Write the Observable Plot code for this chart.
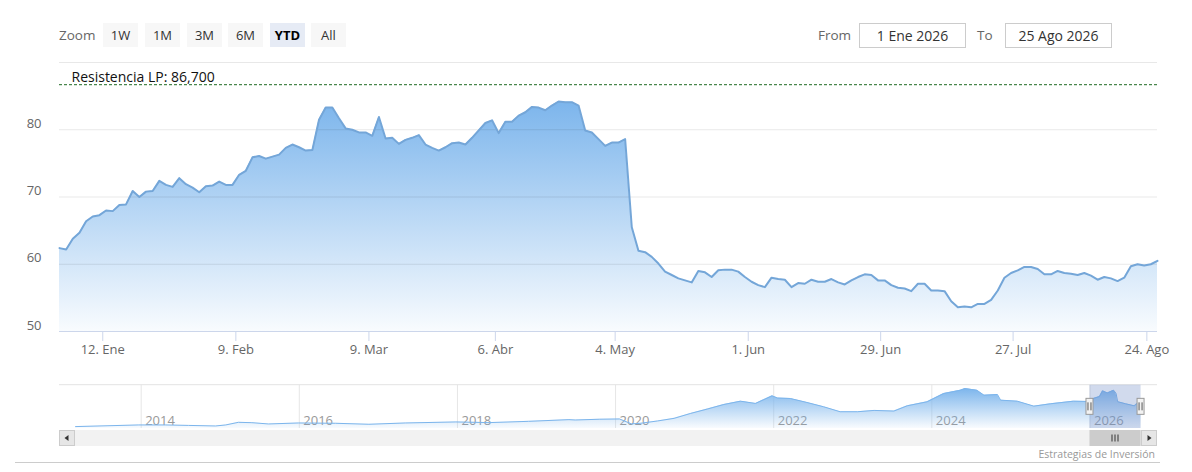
<!DOCTYPE html>
<html><head><meta charset="utf-8">
<script src="https://cdn.jsdelivr.net/npm/d3@7"></script>
<script src="https://cdn.jsdelivr.net/npm/@observablehq/plot@0.6"></script>
<style>
body{margin:0;background:#fff;font-family:"Open Sans",sans-serif;}
#wrap{position:relative;width:1192px;height:472px;overflow:hidden;background:#fff;}
#wrap svg{position:absolute;left:0;overflow:visible;}
.btn{position:absolute;top:23px;height:24px;width:35px;background:#f7f7f7;color:#333;font-size:13px;line-height:24px;text-align:center;}
.btn.sel{background:#e6ebf5;font-weight:bold;color:#000;}
.lbl{position:absolute;top:23px;height:24px;line-height:24px;color:#666;font-size:13.5px;}
.inp{position:absolute;top:23px;height:25px;width:107px;border:1px solid #ccc;box-sizing:border-box;color:#333;font-size:14px;line-height:23px;text-align:center;background:#fff;}
#credits{position:absolute;right:37px;top:447px;font-size:10.5px;color:#999;}
#bottomline{position:absolute;left:15px;top:462px;width:1145px;border-top:1px solid #ccc;}
</style>
</head><body>
<div id="wrap"></div>
<script>
// ---- data ----
const rangeButtons = ["1W", "1M", "3M", "6M", "YTD", "All"];
const selectedButton = "YTD";
const fromLabel = "1 Ene 2026";
const toLabel = "25 Ago 2026";
const resistance = 86.7;
// daily closes, one per trading session (2 Ene 2026 .. 25 Ago 2026)
const price = [
  62.4, 62.2, 63.8, 64.7, 66.4, 67.1, 67.3, 68.0, 67.9, 68.8,
  68.9, 70.9, 70.0, 70.8, 70.9, 72.4, 71.8, 71.5, 72.8, 71.9,
  71.4, 70.7, 71.6, 71.7, 72.3, 71.8, 71.8, 73.3, 73.9, 75.9,
  76.1, 75.7, 76.0, 76.3, 77.3, 77.8, 77.4, 76.9, 77.0, 81.5,
  83.3, 83.3, 81.7, 80.2, 80.0, 79.6, 79.6, 79.1, 81.9, 78.7,
  78.8, 77.9, 78.5, 78.8, 79.2, 77.8, 77.3, 76.9, 77.4, 78.0,
  78.1, 77.8, 78.8, 79.9, 81.0, 81.4, 79.5, 81.2, 81.2, 82.1,
  82.6, 83.4, 83.3, 82.9, 83.6, 84.2, 84.1, 84.1, 83.6, 79.9,
  79.6, 78.6, 77.6, 78.1, 78.1, 78.6, 65.5, 62.0, 61.8, 61.1,
  60.1, 58.9, 58.4, 57.9, 57.6, 57.3, 59.0, 58.8, 58.1, 59.1,
  59.2, 59.2, 58.9, 58.1, 57.4, 56.9, 56.6, 58.0, 57.8, 57.7,
  56.6, 57.2, 57.1, 57.7, 57.4, 57.4, 57.8, 57.3, 57.0, 57.6,
  58.1, 58.5, 58.4, 57.6, 57.6, 56.9, 56.5, 56.4, 56.0, 57.1,
  57.1, 56.1, 56.1, 56.0, 54.5, 53.6, 53.7, 53.6, 54.1, 54.1,
  54.7, 56.1, 58.0, 58.7, 59.1, 59.6, 59.6, 59.3, 58.5, 58.5,
  59.0, 58.7, 58.6, 58.4, 58.7, 58.3, 57.7, 58.1, 57.9, 57.5,
  58.0, 59.7, 60.0, 59.8, 60.0, 60.5
];
// x tick positions (in trading-session units) and labels
const tickSession = [6.5, 26.5, 46.5, 65.5, 83.5, 103.5, 123.4, 143.3, 163.4];
const tickLabels = ["12. Ene", "9. Feb", "9. Mar", "6. Abr", "4. May", "1. Jun", "29. Jun", "27. Jul", "24. Ago"];
const yTicks = [50, 60, 70, 80];
const yGrid = [60, 70, 80, 90];
// navigator (full history), decimal year and value
const navYear = [
  2013.17, 2013.97, 2014.31, 2014.60, 2014.94, 2015.07, 2015.23, 2015.40, 2015.61, 2015.99,
  2016.46, 2016.88, 2017.34, 2017.98, 2018.40, 2018.90, 2019.41, 2019.49, 2019.80, 2020.05,
  2020.20, 2020.31, 2020.53, 2020.74, 2020.95, 2021.16, 2021.37, 2021.58, 2021.77, 2021.98,
  2022.05, 2022.21, 2022.42, 2022.63, 2022.84, 2023.06, 2023.27, 2023.52, 2023.69, 2023.94,
  2024.15, 2024.36, 2024.42, 2024.57, 2024.66, 2024.83, 2024.87, 2025.08, 2025.29, 2025.50,
  2025.79, 2025.99, 2026.05, 2026.12, 2026.16, 2026.22, 2026.30, 2026.33, 2026.35, 2026.45,
  2026.56, 2026.60, 2026.646
];
const navValue = [
  13.7, 16.9, 16.9, 16.0, 14.9, 16.9, 22.0, 21.3, 18.8, 20.7,
  20.1, 18.2, 20.7, 22.7, 21.4, 23.9, 27.2, 26.5, 28.0, 28.5,
  19.0, 20.0, 24.6, 29.7, 39.3, 47.7, 56.6, 63.0, 58.6, 73.3,
  69.0, 68.2, 60.5, 52.2, 42.5, 42.5, 45.1, 43.8, 54.1, 61.8,
  77.8, 84.2, 87.4, 84.2, 74.6, 75.9, 65.0, 63.0, 53.4, 57.9,
  63.0, 62.4, 68.5, 72.0, 83.0, 79.0, 84.2, 78.0, 62.0, 58.0,
  54.0, 59.0, 60.5
];
const navYears = [2014, 2016, 2018, 2020, 2022, 2024, 2026];
const selection = [2026.0, 2026.646];
const credits = "Estrategias de Inversión";

// ---- helpers ----
const NS = "http://www.w3.org/2000/svg";
function gradientDefs(id) {
  return () => {
    const g = document.createElementNS(NS, "g");
    g.innerHTML = `<defs><linearGradient id="${id}" x1="0" y1="0" x2="0" y2="1">
      <stop offset="0" stop-color="#7cb5ec" stop-opacity="1"/>
      <stop offset="1" stop-color="#7cb5ec" stop-opacity="0.05"/></linearGradient></defs>`;
    return g;
  };
}

const wrap = document.getElementById("wrap");
const font = {fontFamily: "'Open Sans', sans-serif", fontSize: "13px", background: "transparent", overflow: "visible"};

// ---- main chart ----
const series = price.map((v, i) => ({i, v}));
const labelOf = new Map(tickSession.map((t, k) => [t, tickLabels[k]]));
const main = Plot.plot({
  width: 1192, height: 362,
  marginLeft: 59, marginRight: 35, marginTop: 62, marginBottom: 31,
  x: {domain: [0, price.length - 1], axis: null, label: null},
  y: {domain: [50, 90], axis: null, label: null},
  style: font,
  marks: [
    gradientDefs("mainGrad"),
    Plot.areaY(series, {x: "i", y1: 50, y2: "v", fill: "url(#mainGrad)"}),
    Plot.ruleY(yGrid, {stroke: "#000", strokeOpacity: 0.09}),
    Plot.ruleY([50], {stroke: "#ccd6eb"}),
    Plot.lineY(series, {x: "i", y: "v", stroke: "#74a6d8", strokeWidth: 2}),
    Plot.ruleY([resistance], {stroke: "#1f6b23", strokeDasharray: "3,2"}),
    Plot.text([resistance], {x: 0, y: d => d, text: d => `Resistencia LP: ${d.toFixed(3).replace(".", ",")}`,
      textAnchor: "start", dx: 12, dy: -7, fill: "#111", fontSize: 14}),
    Plot.axisX(tickSession, {tickFormat: d => labelOf.get(d), tickSize: 10, tickPadding: 3, stroke: "#ccd6eb", fill: "#666", label: null}),
    Plot.axisY(yTicks, {tickSize: 0, tickPadding: 18, dy: -6, fill: "#666", label: null})
  ]
});
main.style.top = "0px";
wrap.appendChild(main);

// ---- navigator ----
const nav = navYear.map((t, k) => ({t, v: navValue[k]}));
function navChrome(index, scales, values, dims) {
  const {width, height, marginLeft, marginRight, marginTop, marginBottom} = dims;
  const x0 = marginLeft, x1 = width - marginRight;
  const top = marginTop, bot = height - marginBottom;
  const sx0 = scales.x(selection[0]), sx1 = scales.x(selection[1]);
  const mid = (top + bot) / 2;
  const sbY = bot + 2, sbH = 16;
  let s = "";
  s += `<line x1="${x0}" x2="${x1}" y1="${top}" y2="${top}" stroke="#e3e3e3"/>`;
  s += `<rect x="${sx0}" y="${top}" width="${sx1 - sx0}" height="${bot - top}" fill="rgba(102,133,194,0.3)"/>`;
  s += `<rect x="${x0}" y="${sbY}" width="${x1 - x0}" height="${sbH}" fill="#f2f2f2"/>`;
  s += `<rect x="${sx0}" y="${sbY}" width="${sx1 - sx0}" height="${sbH}" fill="#cccccc"/>`;
  const cx = (sx0 + sx1) / 2;
  for (const d of [-3, 0, 3]) s += `<line x1="${cx + d}" x2="${cx + d}" y1="${sbY + 4.5}" y2="${sbY + 11.5}" stroke="#333"/>`;
  s += `<rect x="${x0 + 0.5}" y="${sbY + 0.5}" width="15" height="15" fill="#e6e6e6" stroke="#ccc"/>`;
  s += `<path d="M${x0 + 9.5},${sbY + 5} L${x0 + 5.5},${sbY + 8} L${x0 + 9.5},${sbY + 11}Z" fill="#333"/>`;
  s += `<rect x="${x1 - 15.5}" y="${sbY + 0.5}" width="15" height="15" fill="#e6e6e6" stroke="#ccc"/>`;
  s += `<path d="M${x1 - 9.5},${sbY + 5} L${x1 - 5.5},${sbY + 8} L${x1 - 9.5},${sbY + 11}Z" fill="#333"/>`;
  for (const hx of [sx0, sx1]) {
    s += `<rect x="${hx - 3.5}" y="${mid - 8}" width="7" height="16" fill="#f2f2f2" stroke="#999"/>`;
    s += `<line x1="${hx - 1.5}" x2="${hx - 1.5}" y1="${mid - 4}" y2="${mid + 4}" stroke="#555"/>`;
    s += `<line x1="${hx + 1.5}" x2="${hx + 1.5}" y1="${mid - 4}" y2="${mid + 4}" stroke="#555"/>`;
  }
  const g = document.createElementNS(NS, "g");
  g.innerHTML = s;
  return g;
}
const navPlot = Plot.plot({
  width: 1192, height: 72,
  marginLeft: 59, marginRight: 35, marginTop: 6.7, marginBottom: 22,
  x: {domain: [2012.967, 2026.854], axis: null, label: null},
  y: {domain: [10, 94], axis: null, label: null},
  style: font,
  marks: [
    gradientDefs("navGrad"),
    Plot.ruleX(navYears, {stroke: "#e6e6e6"}),
    Plot.text(navYears, {x: d => d, text: d => String(d), frameAnchor: "bottom", textAnchor: "start", dx: 4, dy: -4, fill: "#999", fontSize: 13}),
    Plot.areaY(nav, {x: "t", y1: 10, y2: "v", fill: "url(#navGrad)"}),
    Plot.lineY(nav, {x: "t", y: "v", stroke: "#7cb5ec", strokeWidth: 1}),
    navChrome
  ]
});
navPlot.style.top = "378px";
wrap.appendChild(navPlot);

// ---- range selector & inputs ----
const z = document.createElement("div");
z.className = "lbl"; z.style.left = "59px"; z.textContent = "Zoom";
wrap.appendChild(z);
const btnLeft = [103, 145, 187, 228, 270, 311];
rangeButtons.forEach((b, k) => {
  const d = document.createElement("div");
  d.className = "btn" + (b === selectedButton ? " sel" : "");
  d.style.left = btnLeft[k] + "px";
  d.textContent = b;
  wrap.appendChild(d);
});
const fl = document.createElement("div"); fl.className = "lbl"; fl.style.left = "818px"; fl.textContent = "From"; wrap.appendChild(fl);
const fi = document.createElement("div"); fi.className = "inp"; fi.style.left = "859px"; fi.textContent = fromLabel; wrap.appendChild(fi);
const tl = document.createElement("div"); tl.className = "lbl"; tl.style.left = "977px"; tl.textContent = "To"; wrap.appendChild(tl);
const ti = document.createElement("div"); ti.className = "inp"; ti.style.left = "1005px"; ti.textContent = toLabel; wrap.appendChild(ti);
const cr = document.createElement("div"); cr.id = "credits"; cr.textContent = credits; wrap.appendChild(cr);
const bl = document.createElement("div"); bl.id = "bottomline"; wrap.appendChild(bl);
</script>
</body></html>
